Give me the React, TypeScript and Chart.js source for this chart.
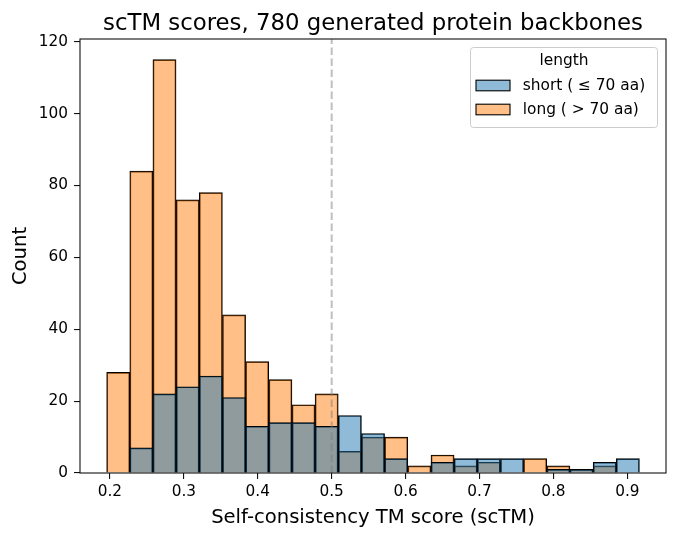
import React, { useEffect, useRef } from "react";
import { Chart, registerables } from "chart.js";

Chart.register(...registerables);

// Histogram bin centres (scTM score), bin width ≈ 0.0313
const binCenters = [
  0.2112, 0.2425, 0.2738, 0.3052, 0.3365, 0.3679, 0.3992, 0.4306, 0.4619, 0.4932,
  0.5246, 0.5559, 0.5873, 0.6186, 0.65, 0.6813, 0.7126, 0.744, 0.7753, 0.8067,
  0.838, 0.8694, 0.9007,
];
const shortCounts = [0, 7, 22, 24, 27, 21, 13, 14, 14, 13, 16, 11, 4, 0, 3, 4, 4, 4, 0, 1, 1, 3, 4];
const longCounts = [28, 84, 115, 76, 78, 44, 31, 26, 19, 22, 6, 10, 10, 2, 5, 2, 3, 0, 4, 2, 1, 2, 0];

const seriesLabels = ["short ( \u2264 70 aa)", "long ( > 70 aa)"];
const legendTitle = "length";
const chartTitle = "scTM scores, 780 generated protein backbones";
const xTitle = "Self-consistency TM score (scTM)";
const yTitle = "Count";
const xTicks = [0.2, 0.3, 0.4, 0.5, 0.6, 0.7, 0.8, 0.9];
const yTicks = [0, 20, 40, 60, 80, 100, 120];
const thresholdValue = 0.5;

const FONT = "'DejaVu Sans', sans-serif";
const BLUE = "rgba(31,119,180,0.5)";
const ORANGE = "rgba(255,127,14,0.5)";

const decorPlugin = {
  id: "decor",
  afterDatasetsDraw(chart: any) {
    const { ctx, chartArea, scales } = chart;
    ctx.save();
    const px = scales.x.getPixelForValue(thresholdValue);
    ctx.strokeStyle = "rgba(128,128,128,0.5)";
    ctx.lineWidth = 2;
    ctx.setLineDash([7.5, 3.5]);
    ctx.beginPath();
    ctx.moveTo(px, chartArea.bottom);
    ctx.lineTo(px, chartArea.top);
    ctx.stroke();
    ctx.setLineDash([]);
    ctx.restore();
  },
  afterDraw(chart: any) {
    const { ctx, chartArea } = chart;
    ctx.save();
    ctx.strokeStyle = "#111";
    ctx.lineWidth = 1.1;
    ctx.strokeRect(chartArea.left, chartArea.top, chartArea.right - chartArea.left, chartArea.bottom - chartArea.top);
    ctx.fillStyle = "#000";
    ctx.font = `22.8px ${FONT}`;
    ctx.textAlign = "center";
    ctx.textBaseline = "alphabetic";
    ctx.fillText(chartTitle, (chartArea.left + chartArea.right) / 2, chartArea.top - 9);
    const bw = 187;
    const bh = 80;
    const bx = chartArea.right - 9 - bw;
    const by = chartArea.top + 8;
    ctx.beginPath();
    (ctx as any).roundRect(bx + 0.5, by + 0.5, bw, bh, 3);
    ctx.fillStyle = "rgba(255,255,255,0.8)";
    ctx.fill();
    ctx.strokeStyle = "#cccccc";
    ctx.lineWidth = 1;
    ctx.stroke();
    ctx.fillStyle = "#000";
    ctx.font = `15.4px ${FONT}`;
    ctx.textAlign = "center";
    ctx.textBaseline = "middle";
    ctx.fillText(legendTitle, bx + bw / 2 + 0.5, by + 14);
    const colors = [BLUE, ORANGE];
    seriesLabels.forEach((lab, i) => {
      const cy = by + 38.5 + i * 24;
      ctx.fillStyle = colors[i];
      ctx.fillRect(bx + 6, cy - 5.3, 34, 10.6);
      ctx.strokeStyle = "#000";
      ctx.lineWidth = 1.1;
      ctx.strokeRect(bx + 6, cy - 5.3, 34, 10.6);
      ctx.fillStyle = "#000";
      ctx.textAlign = "left";
      ctx.fillText(lab, bx + 52.7, cy);
    });
    ctx.restore();
  },
};

export default function App() {
  const ref = useRef<HTMLCanvasElement | null>(null);
  useEffect(() => {
    if (!ref.current) return;
    const toPoints = (arr: number[]) =>
      arr.map((v, i) => ({ x: binCenters[i], y: v === 0 ? null : v }));
    const chart = new Chart(ref.current, {
      type: "bar",
      data: {
        datasets: [
          {
            label: seriesLabels[0],
            data: toPoints(shortCounts) as any,
            backgroundColor: BLUE,
            borderColor: "#000",
            borderWidth: 1,
            grouped: false,
            barPercentage: 1,
            categoryPercentage: 1,
          } as any,
          {
            label: seriesLabels[1],
            data: toPoints(longCounts) as any,
            backgroundColor: ORANGE,
            borderColor: "#000",
            borderWidth: 1,
            grouped: false,
            barPercentage: 1,
            categoryPercentage: 1,
          } as any,
        ],
      },
      options: {
        animation: false,
        responsive: true,
        maintainAspectRatio: false,
        layout: { padding: { top: 39, right: 11, left: 0, bottom: 0 } },
        plugins: { legend: { display: false }, tooltip: { enabled: false }, title: { display: false } },
        scales: {
          x: {
            type: "linear",
            min: 0.1595,
            max: 0.9523,
            offset: false,
            grid: { display: true, drawOnChartArea: false, drawTicks: true, tickLength: 6, color: "#111", lineWidth: 1.1, offset: false },
            border: { display: false },
            ticks: {
              font: { family: FONT, size: 15.3 },
              color: "#000",
              padding: 4,
              maxRotation: 0,
              autoSkip: false,
              callback: (v: any) => String(v),
            },
            afterBuildTicks: (s: any) => {
              s.ticks = xTicks.map((v) => ({ value: v }));
            },
            afterFit: (s: any) => {
              s.height = 66;
            },
            title: { display: true, text: xTitle, font: { family: FONT, size: 19.6 }, color: "#000", padding: { top: 0, bottom: 9 } },
          },
          y: {
            type: "linear",
            min: 0,
            max: 120.75,
            grid: { display: true, drawOnChartArea: false, drawTicks: true, tickLength: 6, color: "#111", lineWidth: 1.1 },
            border: { display: false },
            ticks: {
              font: { family: FONT, size: 15.3 },
              color: "#000",
              padding: 6,
              autoSkip: false,
              callback: (v: any) => String(v),
            },
            afterBuildTicks: (s: any) => {
              s.ticks = yTicks.map((v) => ({ value: v }));
            },
            afterFit: (s: any) => {
              s.width = 80;
            },
            title: { display: true, text: yTitle, font: { family: FONT, size: 19.6 }, color: "#000", padding: { top: 9, bottom: 0 } },
          },
        },
      } as any,
      plugins: [decorPlugin],
    });
    return () => chart.destroy();
  }, []);
  return (
    <div style={{ position: "absolute", left: 0, top: 0, width: 677, height: 539, background: "#fff" }}>
      <canvas ref={ref} />
    </div>
  );
}
